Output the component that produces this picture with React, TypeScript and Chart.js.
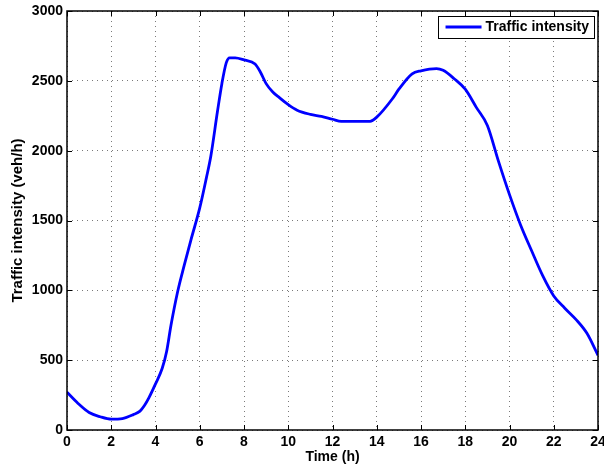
import React, { useEffect, useRef } from "react";
import { Chart, registerables } from "chart.js";

Chart.register(...registerables);

const seriesLabel = "Traffic intensity";
const hours = [
  0, 0.5, 1, 1.5, 2, 2.5, 3, 3.3, 3.5, 3.7, 4, 4.3, 4.5, 4.7, 5, 5.3, 5.6, 6, 6.3, 6.5, 6.8, 7, 7.2, 7.35,
  7.6, 8, 8.5, 8.75, 9, 9.3, 9.6, 10, 10.4, 11, 11.5, 12, 12.4, 13, 13.7, 14, 14.7, 15, 15.6, 16, 16.7,
  17, 17.5, 18, 18.5, 19, 19.5, 20, 20.5, 21, 21.5, 22, 22.5, 23, 23.5, 24,
];
const intensity = [
  270, 190, 125, 95, 78, 82, 110, 135, 175, 230, 330, 440, 560, 750, 990, 1180, 1360, 1590, 1805, 1960,
  2280, 2480, 2630, 2665, 2665, 2650, 2620, 2560, 2480, 2420, 2380, 2330, 2290, 2260, 2245, 2225, 2210,
  2210, 2210, 2240, 2370, 2440, 2550, 2572, 2588, 2575, 2515, 2440, 2310, 2180, 1925, 1685, 1468, 1283,
  1105, 960, 872, 792, 692, 535,
];
const xTitle = "Time (h)";
const yTitle = "Traffic intensity (veh/h)";
const xMin = 0, xMax = 24, xStep = 2;
const yMin = 0, yMax = 3000, yStep = 500;

const FONT = "'Liberation Sans', Arial, Helvetica, sans-serif";

const matlabBox = {
  id: "matlabBox",
  afterDraw(chart: any) {
    const { ctx, chartArea } = chart;
    const { left, right, top, bottom } = chartArea;
    const xs = chart.scales.x;
    const ys = chart.scales.y;
    const tl = 5;
    ctx.save();
    ctx.strokeStyle = "#000";
    ctx.lineWidth = 1;
    ctx.beginPath();
    xs.ticks.forEach((t: any) => {
      const px = Math.round(xs.getPixelForValue(t.value)) + 0.5;
      ctx.moveTo(px, bottom);
      ctx.lineTo(px, bottom - tl);
      ctx.moveTo(px, top);
      ctx.lineTo(px, top + tl);
    });
    ys.ticks.forEach((t: any) => {
      const py = Math.round(ys.getPixelForValue(t.value)) + 0.5;
      ctx.moveTo(left, py);
      ctx.lineTo(left + tl, py);
      ctx.moveTo(right, py);
      ctx.lineTo(right - tl, py);
    });
    ctx.stroke();
    ctx.lineWidth = 1.5;
    ctx.strokeRect(left, top, right - left, bottom - top);

    // legend
    const ds = chart.data.datasets[0];
    ctx.font = `bold 14px ${FONT}`;
    const tw = ctx.measureText(ds.label).width;
    const boxRight = right - 4;
    const boxTop = top + 5;
    const boxH = 22;
    const boxW = tw + 53;
    const boxLeft = boxRight - boxW;
    ctx.fillStyle = "#fff";
    ctx.fillRect(boxLeft, boxTop, boxW, boxH);
    ctx.lineWidth = 1;
    ctx.strokeStyle = "#000";
    ctx.strokeRect(Math.round(boxLeft) + 0.5, Math.round(boxTop) + 0.5, Math.round(boxW), boxH);
    const ly = boxTop + boxH / 2;
    ctx.strokeStyle = ds.borderColor;
    ctx.lineWidth = ds.borderWidth;
    ctx.beginPath();
    ctx.moveTo(boxLeft + 8, ly);
    ctx.lineTo(boxLeft + 44, ly);
    ctx.stroke();
    ctx.fillStyle = "#000";
    ctx.textBaseline = "middle";
    ctx.textAlign = "left";
    ctx.fillText(ds.label, boxLeft + 48, ly + 0.5);
    ctx.restore();
  },
};

export default function App() {
  const ref = useRef<HTMLCanvasElement | null>(null);
  useEffect(() => {
    if (!ref.current) return;
    const pts = hours.map((h, i) => ({ x: h, y: intensity[i] }));
    const chart = new Chart(ref.current, {
      type: "line",
      data: {
        datasets: [
          {
            label: seriesLabel,
            data: pts,
            borderColor: "#0000ff",
            backgroundColor: "#0000ff",
            borderWidth: 2.8,
            pointRadius: 0,
            cubicInterpolationMode: "monotone",
            fill: false,
          },
        ],
      },
      options: {
        animation: false,
        responsive: false,
        maintainAspectRatio: false,
        devicePixelRatio: 1,
        layout: { padding: { top: 11, right: 6, left: 0, bottom: 0 } },
        plugins: { legend: { display: false }, tooltip: { enabled: false } },
        scales: {
          x: {
            type: "linear",
            min: xMin,
            max: xMax,
            ticks: {
              stepSize: xStep,
              color: "#000",
              padding: 4,
              maxRotation: 0,
              callback: (v: any) => String(v),
              font: { family: FONT, size: 14, weight: "bold" },
            },
            grid: { color: "#7a7a7a", lineWidth: 1, drawTicks: false },
            border: { display: false, dash: [1, 4] },
            title: {
              display: true,
              text: xTitle,
              color: "#000",
              padding: { top: 0, bottom: 2 },
              font: { family: FONT, size: 14, weight: "bold" },
            },
            afterFit: (s: any) => {
              s.height = 38;
              s.paddingLeft = 0;
              s.paddingRight = 0;
            },
          },
          y: {
            type: "linear",
            min: yMin,
            max: yMax,
            ticks: {
              stepSize: yStep,
              color: "#000",
              padding: 4,
              callback: (v: any) => String(v),
              font: { family: FONT, size: 14, weight: "bold" },
            },
            grid: { color: "#7a7a7a", lineWidth: 1, drawTicks: false },
            border: { display: false, dash: [1, 4] },
            title: {
              display: true,
              text: yTitle,
              color: "#000",
              padding: { top: 9, bottom: 0 },
              font: { family: FONT, size: 15, weight: "bold" },
            },
            afterFit: (s: any) => {
              s.width = 67;
              s.paddingTop = 0;
              s.paddingBottom = 0;
            },
          },
        },
      },
      plugins: [matlabBox],
    } as any);
    return () => chart.destroy();
  }, []);
  return (
    <div style={{ position: "absolute", left: 0, top: 0, width: 604, height: 468, background: "#fff" }}>
      <canvas ref={ref} width={604} height={468} style={{ width: 604, height: 468 }} />
    </div>
  );
}
